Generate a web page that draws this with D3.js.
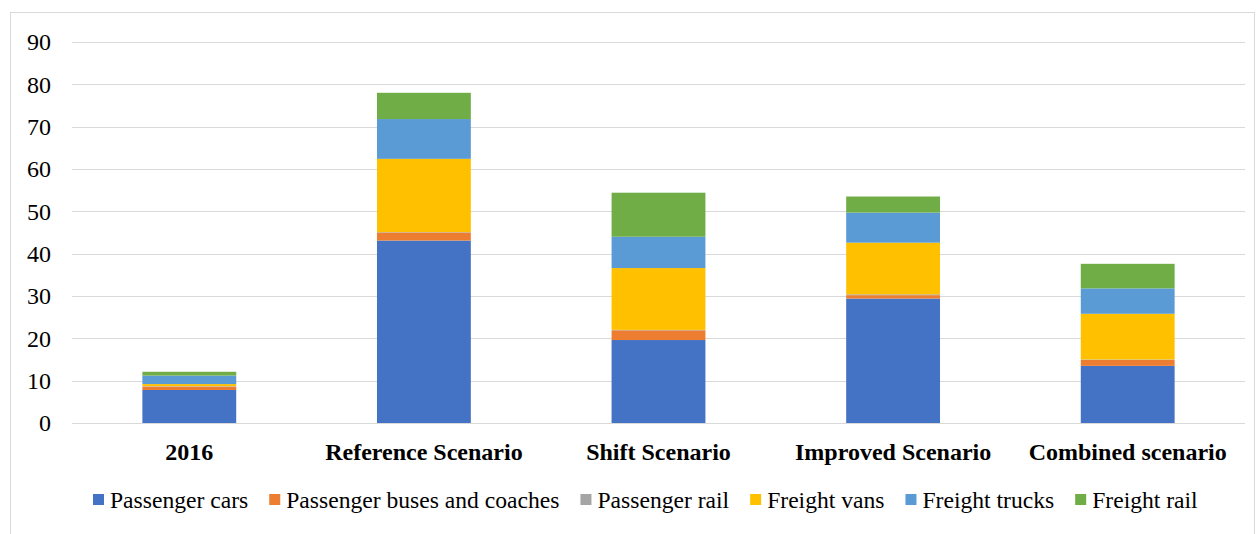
<!DOCTYPE html>
<html>
<head>
<meta charset="utf-8">
<script src="https://cdn.jsdelivr.net/npm/d3@7"></script>
<style>
  html, body { margin: 0; padding: 0; background: #fff; }
  svg { display: block; }
</style>
</head>
<body>
<svg id="chart" width="1257" height="534"></svg>
<script>
// Scenario categories
const categories = ["2016", "Reference Scenario", "Shift Scenario", "Improved Scenario", "Combined scenario"];

// Series values per category
const passengerCars     = [7.8, 43.1, 19.6, 29.4, 13.5];
const passengerBuses    = [0.8,  1.9,  2.3,  0.8,  1.4];
const passengerRail     = [0.1,  0.1,  0.1,  0.2,  0.1];
const freightVans       = [0.5, 17.3, 14.6, 12.2, 10.8];
const freightTrucks     = [2.0,  9.4,  7.4,  7.1,  6.0];
const freightRail       = [0.9,  6.2, 10.4,  3.8,  5.8];

const seriesNames = ["Passenger cars", "Passenger buses and coaches", "Passenger rail",
                     "Freight vans", "Freight trucks", "Freight rail"];
const seriesValues = [passengerCars, passengerBuses, passengerRail, freightVans, freightTrucks, freightRail];
const seriesColors = ["#4472C4", "#ED7D31", "#A5A5A5", "#FFC000", "#5B9BD5", "#70AD47"];

const yTicks = [0, 10, 20, 30, 40, 50, 60, 70, 80, 90];

const FONT = '"Liberation Serif", "Times New Roman", serif';
const svg = d3.select("#chart");
const W = 1257, H = 534;
const margin = { left: 72, right: 12, top: 42, bottom: 111 };

// chart area frame
svg.append("rect")
  .attr("x", 10.5).attr("y", 12.5)
  .attr("width", W - 13).attr("height", H + 10)
  .attr("fill", "none").attr("stroke", "#d9d9d9").attr("stroke-width", 1);

const table = categories.map((c, i) => {
  const row = { category: c };
  seriesNames.forEach((s, j) => row[s] = seriesValues[j][i]);
  return row;
});
const stacked = d3.stack().keys(seriesNames)(table);

const x = d3.scaleBand()
  .domain(categories)
  .range([margin.left, W - margin.right])
  .paddingInner(0.6)
  .paddingOuter(0.3);

const y = d3.scaleLinear()
  .domain([0, 90])
  .range([H - margin.bottom, margin.top]);

// gridlines
svg.append("g")
  .selectAll("line")
  .data(yTicks)
  .join("line")
  .attr("x1", margin.left).attr("x2", W - margin.right)
  .attr("y1", d => Math.round(y(d)) + 0.5).attr("y2", d => Math.round(y(d)) + 0.5)
  .attr("stroke", "#d9d9d9").attr("stroke-width", 1);

// y axis labels
const yAxis = d3.axisLeft(y).tickValues(yTicks).tickSize(0).tickPadding(21);
const gy = svg.append("g").attr("transform", `translate(${margin.left},0)`).call(yAxis);
gy.select(".domain").remove();
gy.selectAll("text")
  .style("font-family", FONT)
  .style("font-size", "24px")
  .attr("fill", "#000");

// stacked bars
svg.append("g")
  .selectAll("g")
  .data(stacked)
  .join("g")
  .attr("fill", (d, i) => seriesColors[i])
  .selectAll("rect")
  .data(d => d)
  .join("rect")
  .attr("x", d => x(d.data.category))
  .attr("width", x.bandwidth())
  .attr("y", d => y(d[1]))
  .attr("height", d => Math.max(0, y(d[0]) - y(d[1])));

// category axis labels
const xAxis = d3.axisBottom(x).tickSize(0).tickPadding(20);
const gx = svg.append("g").attr("transform", `translate(0,${H - margin.bottom})`).call(xAxis);
gx.select(".domain").remove();
gx.selectAll("text")
  .style("font-family", FONT)
  .style("font-size", "24px")
  .style("font-weight", "bold")
  .attr("fill", "#000");

// axis baseline
svg.append("line")
  .attr("x1", margin.left).attr("x2", W - margin.right)
  .attr("y1", Math.round(y(0)) + 0.5).attr("y2", Math.round(y(0)) + 0.5)
  .attr("stroke", "#d9d9d9");

// legend
const legend = svg.append("g").attr("transform", "translate(93,499.5)");
let lx = 0;
const items = legend.selectAll("g")
  .data(seriesNames)
  .join("g");
items.append("rect")
  .attr("width", 11).attr("height", 11).attr("y", -5.5)
  .attr("fill", (d, i) => seriesColors[i]);
items.append("text")
  .attr("x", 17).attr("dy", "0.35em")
  .style("font-family", FONT)
  .style("font-size", "23.6px")
  .attr("fill", "#000")
  .text(d => d);
items.each(function () {
  const g = d3.select(this);
  const tw = g.select("text").node().getComputedTextLength();
  g.attr("transform", `translate(${lx},0)`);
  lx += 17 + tw + 21;
});
</script>
</body>
</html>
